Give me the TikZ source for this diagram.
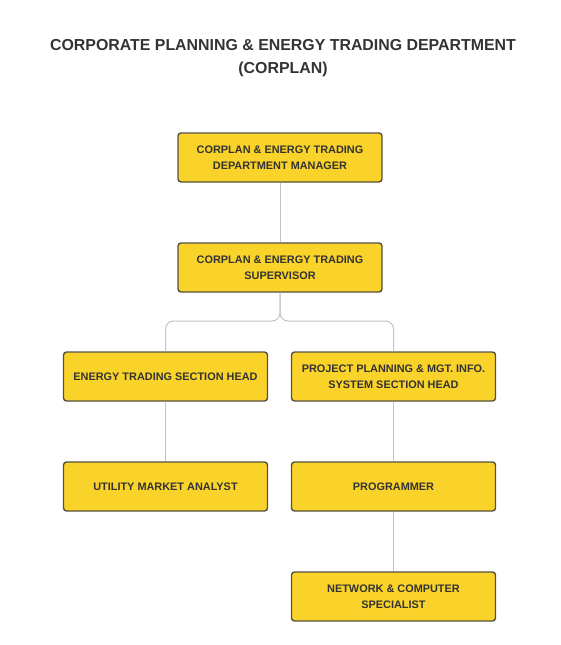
\documentclass[tikz,border=0pt]{standalone}
\usepackage{fontspec}
\setmainfont{Liberation Sans}
\definecolor{boxfill}{HTML}{FAD32A}
\definecolor{boxline}{HTML}{55513F}
\definecolor{txt}{HTML}{333333}
\definecolor{conn}{HTML}{C4C4C4}
\begin{document}
\begin{tikzpicture}[x=1pt,y=-1pt,
  role/.style={draw=boxline, fill=boxfill, line width=1.4pt, rounded corners=3pt,
    minimum width=204pt, minimum height=49pt, inner sep=0pt, align=center,
    font=\bfseries\fontsize{10.9}{15.5}\selectfont, text=txt},
  link/.style={draw=conn, line width=1pt, rounded corners=8pt}]
\useasboundingbox (0,0) rectangle (560,645);
\node[font=\bfseries\fontsize{15.9}{23}\selectfont, text=txt, align=center] (title) at (283,58)
  {CORPORATE PLANNING \& ENERGY TRADING DEPARTMENT\\(CORPLAN)};
\node[role] (mgr) at (280,157.5) {CORPLAN \& ENERGY TRADING\\DEPARTMENT MANAGER};
\node[role] (sup) at (280,267.5) {CORPLAN \& ENERGY TRADING\\SUPERVISOR};
\node[role] (eth) at (165.5,376.5) {ENERGY TRADING SECTION HEAD};
\node[role] (pph) at (393.5,376.5) {PROJECT PLANNING \& MGT. INFO.\\SYSTEM SECTION HEAD};
\node[role] (uma) at (165.5,486.5) {UTILITY MARKET ANALYST};
\node[role] (prg) at (393.5,486.5) {PROGRAMMER};
\node[role] (net) at (393.5,596.5) {NETWORK \& COMPUTER\\SPECIALIST};
\coordinate (br) at (280,321);
\draw[link] (mgr.south) -- (sup.north);
\draw[link] (sup.south) |- (eth.north |- br) -- (eth.north);
\draw[link] (sup.south) |- (pph.north |- br) -- (pph.north);
\draw[link] (eth.south) -- (uma.north);
\draw[link] (pph.south) -- (prg.north);
\draw[link] (prg.south) -- (net.north);
\end{tikzpicture}
\end{document}
